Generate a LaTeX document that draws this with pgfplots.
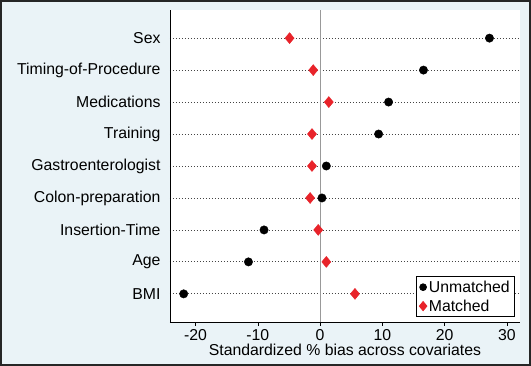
\documentclass[border=0pt]{standalone}
\usepackage{pgfplots}
\pgfplotsset{compat=1.18}
\usepackage{fontspec}
\setmainfont{Liberation Sans}
\definecolor{bgblue}{HTML}{EAF3F7}
\definecolor{mred}{HTML}{E8232A}
\definecolor{gridc}{HTML}{444444}
\begin{document}
\begin{tikzpicture}
\useasboundingbox (0,0) rectangle (531pt,366pt);
\fill[bgblue] (0,0) rectangle (531pt,366pt);
\draw[black!85, line width=2pt] (1pt,1pt) rectangle (530pt,365pt);
\begin{axis}[
  at={(170pt,44pt)}, anchor=south west,
  scale only axis, width=350pt, height=312pt,
  xmin=-24.1, xmax=32.1, ymin=0.12, ymax=9.88,
  axis x line*=bottom, axis y line*=left,
  axis line style={black, line width=0.8pt},
  axis background/.style={fill=white},
  xtick={-20,-10,0,10,20,30},
  ytick={1,...,9},
  yticklabels={BMI, Age, Insertion-Time, Colon-preparation, Gastroenterologist, Training, Medications, Timing-of-Procedure, Sex},
  tick align=outside,
  major tick length=4pt,
  ytick style={draw=none},
  xtick style={black, line width=0.6pt},
  ymajorgrids,
  major grid style={gridc, line width=0.8pt, dash pattern=on 0.8pt off 2.2pt},
  font=\fontsize{15.8}{18}\selectfont,
  /pgf/number format/assume math mode=true,
  xticklabel style={yshift=0pt},
  yticklabel style={xshift=-2pt},
  xlabel={Standardized \% bias across covariates},
  xlabel style={yshift=3.5pt},
  legend style={at={(0.986,0.016)}, anchor=south east, draw=black, line width=0.8pt, fill=white,
    inner xsep=3pt, inner ysep=2pt, row sep=2pt, font=\fontsize{15.8}{17}\selectfont, cells={anchor=west}},
  legend image code/.code={\draw[#1] plot coordinates {(0.14cm,0cm)};},
]
\addplot[gray!80, line width=0.8pt, forget plot] coordinates {(0,0.12) (0,9.88)};
\addplot[only marks, mark=*, mark size=4.2pt, black, forget plot] coordinates {
(27.2,9) (16.6,8) (11.0,7) (9.4,6) (1.0,5) (0.3,4) (-9.0,3) (-11.5,2) (-21.9,1)};
\addplot[only marks, mark=diamond*, mark size=5.5pt, mred, forget plot, mark options={xscale=1.1}] coordinates {
(-4.9,9) (-1.1,8) (1.4,7) (-1.3,6) (-1.3,5) (-1.6,4) (-0.3,3) (1.0,2) (5.6,1)};
\addlegendimage{only marks, mark=*, mark size=3.4pt, black}
\addlegendentry{Unmatched}
\addlegendimage{only marks, mark=diamond*, mark size=4.6pt, mred, mark options={xscale=1.1}}
\addlegendentry{Matched}
\end{axis}
\end{tikzpicture}
\end{document}
